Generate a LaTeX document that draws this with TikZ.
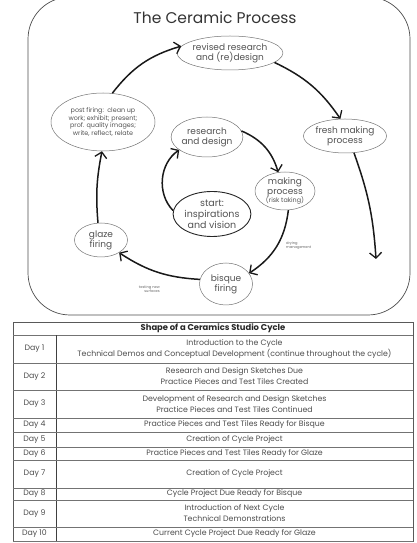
\documentclass[tikz,border=0pt]{standalone}
\usepackage{fontspec}
\setmainfont{Poppins}
\usetikzlibrary{shapes.geometric,arrows.meta,positioning}

\begin{document}
\begin{tikzpicture}[x=1pt,y=1pt,
    stage/.style={ellipse, draw=black!55, line width=0.5pt, text=black!68,
      align=center, inner sep=0pt, font=\fontsize{9}{10}\selectfont},
    flow/.style={line width=1.5pt, black!90,
      -{Straight Barb[length=5.5pt,width=12pt,line width=1.3pt]}},
    note/.style={font=\fontsize{3.6}{4.2}\selectfont, text=black!60, inner sep=0pt},
    cell/.style={font=\fontsize{7.8}{11}\selectfont, text=black!70, align=center, inner sep=0pt}]
  \useasboundingbox (0,0) rectangle (416,543);
  % ceramic process
  \draw[black!70, line width=0.7pt, rounded corners=42pt] (28,228) rectangle (410,546);
  \node[text=black!80, font=\fontsize{15.5}{18}\selectfont] (title) at (215,525) {The Ceramic Process};
  \node[stage, minimum width=90, minimum height=34] (revised) at (230,490) {revised research\\and (re)design};
  \node[stage, minimum width=74, minimum height=34] (fresh) at (345,407) {fresh making\\process};
  \node[stage, minimum width=104, minimum height=58, font=\fontsize{6.4}{7.6}\selectfont] (post) at (103,421)
    {post firing:\ \ clean up\\work; exhibit; present;\\prof. quality images;\\write, reflect, relate};
  \node[stage, minimum width=67, minimum height=40] (research) at (207,406) {research\\and design};
  \node[stage, minimum width=60, minimum height=38] (making) at (285,352)
    {making\\process\\[-2pt]{\fontsize{6.4}{7}\selectfont(risk taking)}};
  \node[stage, draw=black!85, line width=0.9pt, minimum width=73, minimum height=45,
    font=\fontsize{9.5}{11}\selectfont] (start) at (212,329) {start:\\inspirations\\and vision};
  \node[stage, minimum width=53, minimum height=34] (glaze) at (101,303) {glaze\\firing};
  \node[stage, minimum width=53, minimum height=42] (bisque) at (226,259) {bisque\\firing};
  \coordinate (loopend) at (376,284);
  \draw[flow] (post.72) to[bend left=18] (revised.172);
  \draw[flow] (revised.-12) to[bend left=15] (fresh.105);
  \draw[flow] (fresh.-62) to[bend left=8] (loopend);
  \draw[flow] (research.10) to[bend left=25] (making.110);
  \draw[flow] (making.-80) to[bend left=25] (bisque.25);
  \draw[flow] (bisque.170) to[bend left=15] (glaze.-35);
  \draw[flow] (glaze.100) to[bend left=8] (post.-92);
  \draw[flow] (start.175) to[bend left=50] (research.205);
  \node[note, anchor=west, align=left] (drying) at (286,297.5) {drying\\management};
  \node[note, anchor=east, align=right] (testing) at (160,254) {testing new\\surfaces};
  % studio cycle table
  \draw[black!65, line width=0.6pt] (13,2) rectangle (413,221);
  \draw[black!55, line width=0.5pt] (13,208) -- (413,208);
  \draw[black!75, line width=0.9pt] (56,2) -- (56,208);
  \node[cell, font=\bfseries\fontsize{8.4}{9}\selectfont, text=black!85] (head) at (213,214.5)
    {Shape of a Ceramics Studio Cycle};
  \foreach \i/\top/\bot/\task in {
      1/208/180/{Introduction to the Cycle\\Technical Demos and Conceptual Development (continue throughout the cycle)},
      2/180/153/{Research and Design Sketches Due\\Practice Pieces and Test Tiles Created},
      3/153/125/{Development of Research and Design Sketches\\Practice Pieces and Test Tiles Continued},
      4/125/111/{Practice Pieces and Test Tiles Ready for Bisque},
      5/111/96/{Creation of Cycle Project},
      6/96/83/{Practice Pieces and Test Tiles Ready for Glaze},
      7/83/55/{Creation of Cycle Project},
      8/55/43/{Cycle Project Due Ready for Bisque},
      9/43/16/{Introduction of Next Cycle\\Technical Demonstrations},
      10/16/2/{Current Cycle Project Due Ready for Glaze}} {
    \draw[black!55, line width=0.5pt] (13,\bot) -- (413,\bot);
    \node[cell] (day\i) at (34.5,{(\top+\bot)/2}) {Day \i};
    \node[cell] (task\i) at (234.5,{(\top+\bot)/2}) {\task};
  }
\end{tikzpicture}
\end{document}
